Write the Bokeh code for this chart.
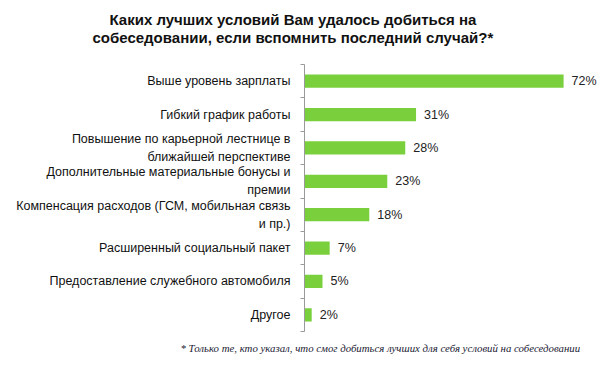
from bokeh.plotting import figure
from bokeh.models import (ColumnDataSource, Range1d, LinearAxis,
                          FixedTicker, LabelSet, Title)
from bokeh.core.properties import value
from bokeh.embed import file_html
from bokeh.resources import INLINE

title_lines = ["Каких лучших условий Вам удалось добиться на",
               "собеседовании, если вспомнить последний случай?*"]
footnote_text = "* Только те, кто указал, что смог добиться лучших для себя условий на собеседовании"

categories = [
    "Выше уровень зарплаты",
    "Гибкий график работы",
    "Повышение по карьерной лестнице в\nближайшей перспективе",
    "Дополнительные материальные бонусы и\nпремии",
    "Компенсация расходов (ГСМ, мобильная связь\nи пр.)",
    "Расширенный социальный пакет",
    "Предоставление служебного автомобиля",
    "Другое",
]
values = [72, 31, 28, 23, 18, 7, 5, 2]
value_labels = [f"{v}%" for v in values]

n = len(categories)
ypos = [n - i - 0.5 for i in range(n)]

source = ColumnDataSource(data=dict(y=ypos, val=values, lbl=value_labels))

p = figure(
    width=598, height=370,
    y_range=Range1d(0, n),
    x_range=Range1d(0, 81.7),
    x_axis_location=None, y_axis_location=None,
    min_border_left=304, min_border_right=0, min_border_top=64, min_border_bottom=39,
    outline_line_color=None, toolbar_location=None, output_backend="svg",
    background_fill_color="white", border_fill_color="white",
)
p.xgrid.grid_line_color = None
p.ygrid.grid_line_color = None

bounds = list(range(n + 1))
tick_axis = LinearAxis(
    ticker=FixedTicker(ticks=bounds),
    major_label_overrides={b: "" for b in bounds},
    major_tick_out=4, major_tick_in=0,
    minor_tick_line_color=None,
    axis_line_color="#9a9a9a", major_tick_line_color="#9a9a9a",
    major_label_standoff=0,
)
p.add_layout(tick_axis, "left")

cat_axis = LinearAxis(
    ticker=FixedTicker(ticks=ypos),
    major_label_overrides={y: c for y, c in zip(ypos, categories)},
    axis_line_color=None, major_tick_line_color=None, minor_tick_line_color=None,
    major_label_text_font="Liberation Sans", major_label_text_font_size="12.5px",
    major_label_text_color="#111111", major_label_standoff=4,
    major_label_text_line_height=1.3,
)
p.add_layout(cat_axis, "left")

p.hbar(y="y", left=0, right="val", height=0.4, source=source,
       fill_color="#7AD03C", line_color=None)

p.add_layout(LabelSet(
    x="val", y="y", text="lbl", source=source, x_offset=8,
    text_baseline="middle", text_font=value("Liberation Sans"),
    text_font_size=value("12.5px"), text_color="#222222",
))

title_style = dict(align="left", text_font="Liberation Sans", text_font_style="bold",
                   text_font_size="15px", text_color="#111111")
p.add_layout(Title(text=title_lines[1], offset=-212, standoff=38, **title_style), "above")
t1 = Title(text=title_lines[0], offset=-195, standoff=0, **title_style)
try:
    t1.standoff = -40
except Exception:
    pass
p.add_layout(t1, "above")

p.add_layout(Title(text=footnote_text, align="left", offset=-124, standoff=17,
                   text_font="Liberation Serif", text_font_style="italic",
                   text_font_size="10.8px", text_color="#1a1a33"), "below")

open("out.html", "w").write(file_html(p, INLINE))
